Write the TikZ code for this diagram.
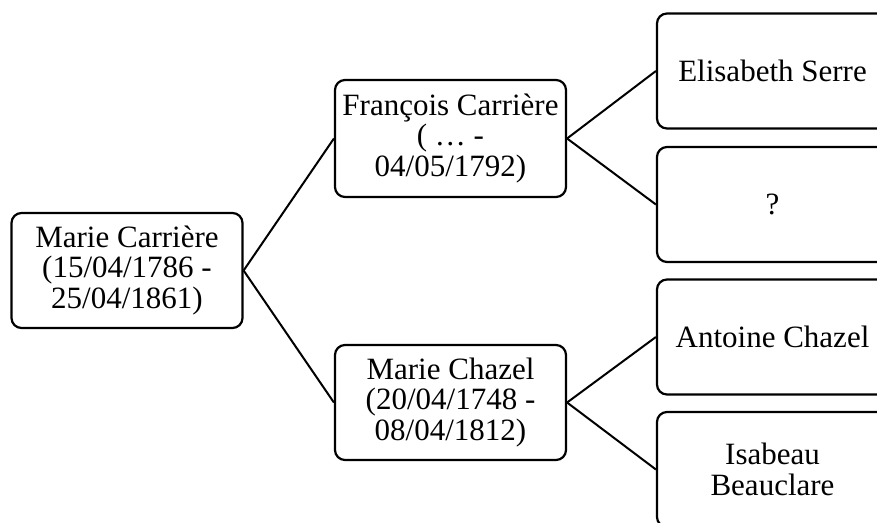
\documentclass[tikz,border=0pt]{standalone}
\usepackage{fontspec}
\setmainfont{Liberation Serif}
\begin{document}
\begin{tikzpicture}[x=1pt,y=-1pt,
  person/.style={draw=black, line width=2.2pt, rounded corners=10pt, fill=white,
    minimum width=231pt, minimum height=115pt, align=center, inner sep=2pt,
    font=\fontsize{31pt}{30.5pt}\selectfont},
  link/.style={draw=black, line width=2pt}]
\useasboundingbox (0,0) rectangle (877,522);
\clip (0,0) rectangle (877,522);
\node[person] (root) at (127,270.5) {Marie Carrière\\(15/04/1786 -\\25/04/1861)};
\node[person, minimum height=117pt] (fr) at (450.5,138.5) {François Carrière\\( … -\\04/05/1792)};
\node[person] (mc) at (450.5,402.5) {Marie Chazel\\(20/04/1748 -\\08/04/1812)};
\node[person] (es) at (772.5,71) {Elisabeth Serre};
\node[person] (q) at (772.5,204.5) {?};
\node[person] (ac) at (772.5,337) {Antoine Chazel};
\node[person] (ib) at (772.5,469.5) {Isabeau\\Beauclare};
\draw[link] (root.east) -- (fr.west);
\draw[link] (root.east) -- (mc.west);
\draw[link] (fr.east) -- (es.west);
\draw[link] (fr.east) -- (q.west);
\draw[link] (mc.east) -- (ac.west);
\draw[link] (mc.east) -- (ib.west);
\end{tikzpicture}
\end{document}
